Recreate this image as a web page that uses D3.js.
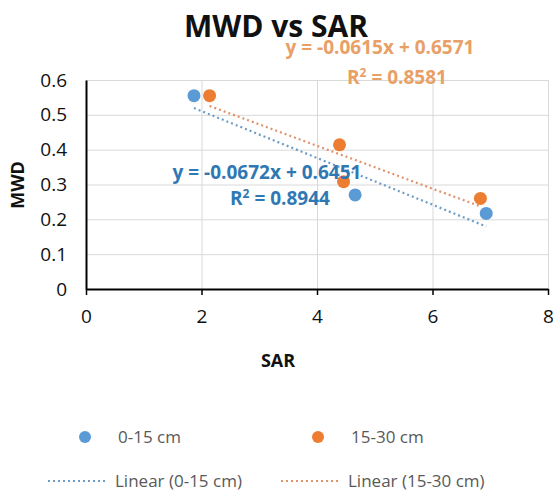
<!DOCTYPE html>
<html>
<head>
<meta charset="utf-8">
<script src="https://cdn.jsdelivr.net/npm/d3@7"></script>
<style>
  body { margin: 0; background: white; }
  text { font-family: 'Open Sans', sans-serif; }
</style>
</head>
<body>
<script>
/* DATA */
var series = ['0-15 cm', '15-30 cm'];
var sar0_15 = [1.87, 4.66, 6.93];
var mwd0_15 = [0.555, 0.27, 0.217];
var sar15_30 = [2.14, 4.39, 4.46, 6.83];
var mwd15_30 = [0.555, 0.414, 0.308, 0.26];
var slopes = [-0.0672, -0.0615];
var intercepts = [0.6451, 0.6571];
var r2 = ['0.8944', '0.8581'];
var xTicks = [0, 2, 4, 6, 8];
var yTicks = [0, 0.1, 0.2, 0.3, 0.4, 0.5, 0.6];

/* SETUP */
var width = 553, height = 493;
var plotLeft = 86, plotRight = 548, plotTop = 80, plotBottom = 289;
var colors = ['#5B9BD5', '#ED7D31'];
var eqColors = ['#2F78B4', '#E8A066'];
var trendColors = ['#6d9cc6', '#e0936a'];

var x = d3.scaleLinear().domain([0, 8]).range([plotLeft, plotRight]);
var y = d3.scaleLinear().domain([0, 0.6]).range([plotBottom, plotTop]);

var svg = d3.select('body').append('svg')
    .attr('width', width)
    .attr('height', height);

svg.append('rect').attr('width', width).attr('height', height).attr('fill', 'white');

// gridlines
svg.append('g')
    .attr('transform', `translate(0, ${plotBottom})`)
    .call(d3.axisBottom(x).tickValues(xTicks).tickSize(-(plotBottom - plotTop)).tickFormat(''))
    .call(g => g.select('.domain').remove())
    .selectAll('line').attr('stroke', '#d9d9d9');

svg.append('g')
    .attr('transform', `translate(${plotLeft}, 0)`)
    .call(d3.axisLeft(y).tickValues(yTicks).tickSize(-(plotRight - plotLeft)).tickFormat(''))
    .call(g => g.select('.domain').remove())
    .selectAll('line').attr('stroke', '#d9d9d9');

// axes
var xAxis = svg.append('g')
    .attr('transform', `translate(0, ${plotBottom})`)
    .call(d3.axisBottom(x).tickValues(xTicks).tickSize(6).tickSizeOuter(0).tickPadding(15).tickFormat(d3.format('d')));
xAxis.select('.domain').attr('stroke', '#000').attr('stroke-width', 2);
xAxis.selectAll('line').attr('stroke', '#000').attr('stroke-width', 1.5);
xAxis.selectAll('text').attr('fill', '#111').style('font-size', '19px');

var yAxis = svg.append('g')
    .attr('transform', `translate(${plotLeft}, 0)`)
    .call(d3.axisLeft(y).tickValues(yTicks).tickSize(0).tickSizeOuter(0).tickPadding(19).tickFormat(d => d === 0 ? '0' : d3.format('.1f')(d)));
yAxis.select('.domain').attr('stroke', '#000').attr('stroke-width', 2);
yAxis.selectAll('text').attr('fill', '#111').style('font-size', '19px');

// trendlines
var xs = [sar0_15, sar15_30];
var ys = [mwd0_15, mwd15_30];
[0, 1].forEach(i => {
    var x0 = d3.min(xs[i]), x1 = d3.max(xs[i]);
    svg.append('line')
        .attr('x1', x(x0)).attr('y1', y(slopes[i] * x0 + intercepts[i]))
        .attr('x2', x(x1)).attr('y2', y(slopes[i] * x1 + intercepts[i]))
        .attr('stroke', trendColors[i])
        .attr('stroke-width', 2.2)
        .attr('stroke-dasharray', '2,3');
});

// points
[1, 0].forEach(i => {
    svg.append('g').selectAll('circle')
        .data(xs[i].map((v, j) => [v, ys[i][j]]))
        .join('circle')
        .attr('cx', d => x(d[0]))
        .attr('cy', d => y(d[1]))
        .attr('r', 6.5)
        .attr('fill', colors[i]);
});

// equations
var eqPos = [[267, 179, 280, 205], [380, 54, 397, 84]];
[0, 1].forEach(i => {
    svg.append('text')
        .attr('x', eqPos[i][0]).attr('y', eqPos[i][1])
        .attr('text-anchor', 'middle')
        .attr('fill', eqColors[i])
        .style('font-size', '19px').style('font-weight', 'bold')
        .text(`y = ${slopes[i]}x + ${intercepts[i]}`);
    var t = svg.append('text')
        .attr('x', eqPos[i][2]).attr('y', eqPos[i][3])
        .attr('text-anchor', 'middle')
        .attr('fill', eqColors[i])
        .style('font-size', '19px').style('font-weight', 'bold');
    t.append('tspan').text('R');
    t.append('tspan').attr('dy', -7).style('font-size', '12px').text('2');
    t.append('tspan').attr('dy', 7).text(` = ${r2[i]}`);
});

// title and axis labels
svg.append('text')
    .attr('x', 276).attr('y', 37)
    .attr('text-anchor', 'middle')
    .style('font-size', '30px').style('font-weight', 'bold')
    .attr('fill', '#111')
    .text('MWD vs SAR');

svg.append('text')
    .attr('x', 278).attr('y', 367)
    .attr('text-anchor', 'middle')
    .style('font-size', '18px').style('font-weight', 'bold')
    .attr('fill', '#111')
    .text('SAR');

svg.append('text')
    .attr('transform', 'translate(24, 185) rotate(-90)')
    .attr('text-anchor', 'middle')
    .style('font-size', '18px').style('font-weight', 'bold')
    .attr('fill', '#111')
    .text('MWD');

// legend
var legendX = [85, 318];
series.forEach((s, i) => {
    svg.append('circle')
        .attr('cx', legendX[i]).attr('cy', 437).attr('r', 6)
        .attr('fill', colors[i]);
    svg.append('text')
        .attr('x', legendX[i] + 33).attr('y', 443)
        .attr('fill', '#595959')
        .style('font-size', '17px')
        .text(s);
    svg.append('line')
        .attr('x1', legendX[i] - 37).attr('x2', legendX[i] + 23)
        .attr('y1', 481).attr('y2', 481)
        .attr('stroke', trendColors[i])
        .attr('stroke-width', 2)
        .attr('stroke-dasharray', '2,3');
    svg.append('text')
        .attr('x', legendX[i] + 30).attr('y', 487)
        .attr('fill', '#595959')
        .style('font-size', '17px')
        .text(`Linear (${s})`);
});
</script>
</body>
</html>
